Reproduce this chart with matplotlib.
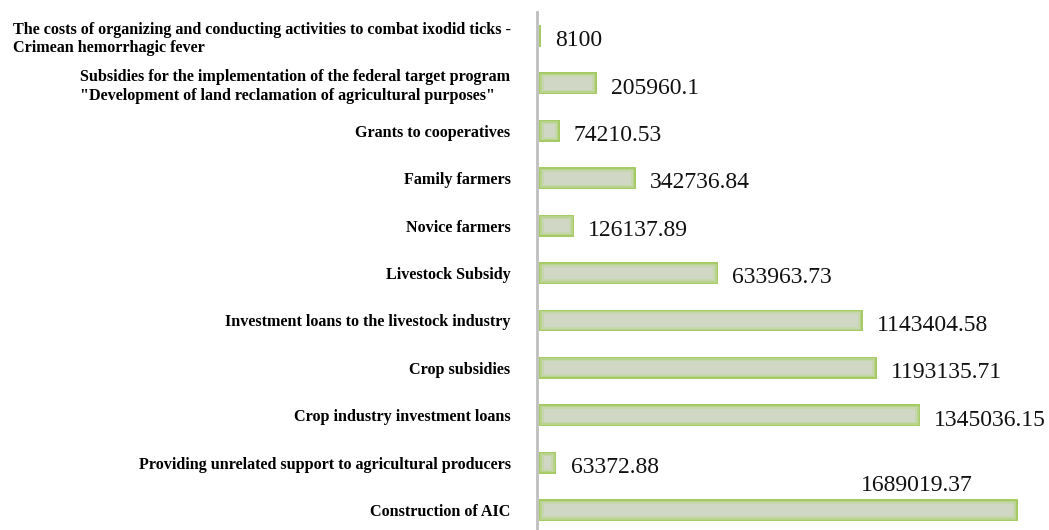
import matplotlib.pyplot as plt

categories = [
    "The costs of organizing and conducting activities to combat ixodid ticks -\nCrimean hemorrhagic fever",
    "Subsidies for the implementation of the federal target program\n\"Development of land reclamation of agricultural purposes\"",
    "Grants to cooperatives",
    "Family farmers",
    "Novice farmers",
    "Livestock Subsidy",
    "Investment loans to the livestock industry",
    "Crop subsidies",
    "Crop industry investment loans",
    "Providing unrelated support to agricultural producers",
    "Construction of AIC",
]
values = [8100, 205960.1, 74210.53, 342736.84, 126137.89, 633963.73,
          1143404.58, 1193135.71, 1345036.15, 63372.88, 1689019.37]
value_labels = ["8100", "205960.1", "74210.53", "342736.84", "126137.89", "633963.73",
                "1143404.58", "1193135.71", "1345036.15", "63372.88", "1689019.37"]

plt.rcParams['font.family'] = ['Liberation Serif', 'DejaVu Serif']

fig = plt.figure(figsize=(10.49, 5.30), dpi=100)
ax = fig.add_axes([537 / 1049, 0.0, 1 - 537 / 1049, 1 - 12 / 530])

ypos = list(range(len(values)))
px = 3530  # roughly one pixel in data units, for the soft glow layers
ax.barh(ypos, values, left=1.5 * px, height=0.46, color='#a6cb66', edgecolor='none')
layers = [(0.40, '#b8d48c', 1.5), (0.34, '#c6d6ad', 3), (0.27, '#d0d7c5', 5)]
for h, c, k in layers:
    w = [max(v - 2 * k * px, 0) for v in values]
    ax.barh(ypos, w, left=(k + 1.5) * px, height=h, color=c, edgecolor='none')

for i, (v, lab) in enumerate(zip(values, value_labels)):
    if i == len(values) - 1:
        ax.text(v - 350000, i - 0.52, lab, fontsize=17, ha='center', va='center', color='#111111')
    else:
        ax.text(v + 55000, i + 0.1, lab, fontsize=17, ha='left', va='center', color='#111111')

ax.set_xlim(0, 1.805e6)
ax.set_ylim(10.42, -0.506)
ax.set_yticks(ypos)
ax.set_yticklabels(categories, fontsize=11.6, fontweight='bold', multialignment='left')
ax.tick_params(axis='y', length=0, pad=19)
ax.set_xticks([])

for s in ['top', 'right', 'bottom']:
    ax.spines[s].set_visible(False)
ax.spines['left'].set_color('#bfbfbf')
ax.spines['left'].set_linewidth(2)

plt.savefig('out.png', dpi=100)
